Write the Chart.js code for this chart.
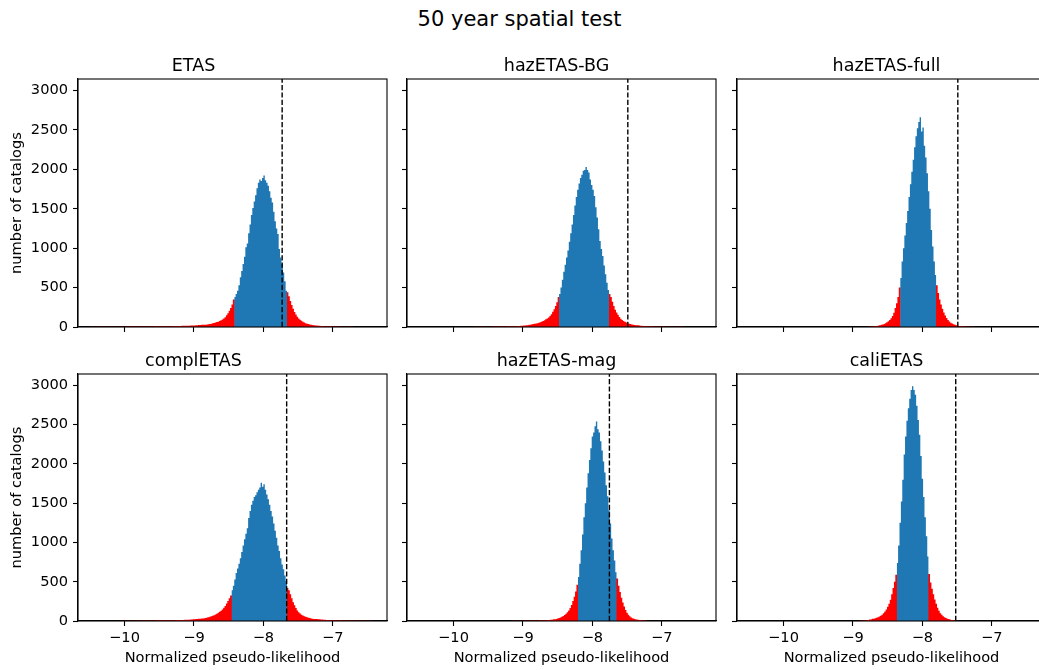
<!DOCTYPE html>
<html>
<head>
<meta charset="utf-8">
<title>50 year spatial test</title>
<script src="https://cdn.jsdelivr.net/npm/chart.js@4.4.1/dist/chart.umd.min.js"></script>
<style>
  html, body { margin: 0; padding: 0; background: #ffffff; width: 1039px; height: 670px; overflow: hidden; }
  #suptitle { position: absolute; left: 0; top: 7px; width: 1039px; text-align: center;
              font-family: "DejaVu Sans", sans-serif; font-size: 21px; line-height: 25px; color: #000; }
  canvas { position: absolute; }
</style>
</head>
<body>
<div id="suptitle">50 year spatial test</div>

<script>
// Bin widths: far tails use coarse bins, everything near the peak uses fine bins
const farBin = 0.04;
const fineBin = 0.02;

// Shared axis ticks and ranges
const xTicks = [-10, -9, -8, -7];
const yTicks = [0, 500, 1000, 1500, 2000, 2500, 3000];
const xMin = -10.67, xMax = -6.22;
const yMax = 3145;

// ETAS
const etasLeftFar = [2,2,3,3,3, 3,3,3,4,4, 4,4,4,5,5, 5,5,6,6,6, 7,7,7,8,8, 9,9,10,11,11,
  12,13,14,15,16, 17,19,20,22,25, 27,30];
const etasLeftNear = [33,35,38,42,46, 50,56,62,68,76, 85,95,108,125,148, 175,205,240,285,350];
const etasCoreStart = -8.42;
const etasCore = [380,420,460,530,630, 710,800,890,1010,1060, 1190,1300,1420,1510,1590,
  1670,1760,1830,1870,1850, 1890,1920,1860,1830,1790, 1720,1640,1580,1460,1340,
  1250,1180,990,880,800, 690,580,460];
const etasRightNear = [440,390,330,280,230, 190,160,130,108,92, 78,66,56,48,42, 37,33,29,26,23];
const etasRightFar = [20,16,13,11,9,8,7,6,5,4,4,3,3,2];
const etasObserved = -7.73;

// hazETAS-BG
const bgLeftFar = [2,2,3,3,3, 4,4,5,5,6, 6,7,8,9,10, 11,13,15,18,22, 27];
const bgLeftNear = [34,37,40,44,49, 54,60,67,76,86, 97,108,122,140,162, 192,225,265,315,380];
const bgCoreStart = -8.48;
const bgCore = [420,500,600,700,790, 880,970,1080,1190,1300, 1420,1540,1650,1740,1820,
  1890,1930,1980,1990,2030, 1990,1960,1870,1800,1740, 1660,1520,1390,1240,1090,
  990,900,780,670,560, 470];
const bgRightNear = [420,380,320,265,220, 185,155,128,106,90, 76,65,56,48,42, 37,33,29,26,23];
const bgRightFar = [21,17,14,12,10,8,7,6,5,5,4,4,3,3,3,2,2];
const bgObserved = -7.49;

// hazETAS-full
const fullLeftFar = [4,7,10,14];
const fullLeftNear = [20,23,27,32,39, 48,59,73,90,112, 140,180,240,300,380, 500];
const fullCoreStart = -8.32;
const fullCore = [620,830,1000,1160,1320, 1470,1650,1810,1970,2120, 2280,2420,2520,2600,2660,
  2480,2530,2300,2150,1950, 1720,1500,1230,1020,830, 660];
const fullRightNear = [530,430,350,285,230, 185,145,115,90,70, 55,43,34,27,21, 17];
const fullRightFar = [13,9,6,5,4,3];
const fullObserved = -7.49;

// complETAS
const complLeftFar = [3,3,3,4,4, 4,5,5,5,6, 6,7,7,8,8, 9,9,10,10,11, 12,13,14,15,17, 19,21,24,28,33];
const complLeftNear = [36,39,43,48,53, 59,66,74,83,93, 105,118,132,148,168, 192,222,255,290,325];
const complCoreStart = -8.46;
const complCore = [390,450,530,610,670, 730,800,880,960,1040, 1110,1180,1310,1400,1480,
  1530,1580,1600,1640,1670, 1700,1760,1710,1740,1670, 1610,1550,1480,1400,1330,
  1240,1150,1060,960,890, 800,720,660,580,510];
const complRightNear = [420,390,340,290,240, 200,165,135,112,94, 80,69,60,53,47, 42,37,33,30,27];
const complRightFar = [25,21,18,16,14,12,11,10,9,8,7,7,6,6,5,5,4,4,3,3,3];
const complObserved = -7.665;

// hazETAS-mag
const magLeftFar = [3,3,3,4,4,5,5,6,6,7,8,9,11,13,16,21];
const magLeftNear = [27,31,37,44,53, 63,76,92,112,135, 165,205,255,310,375, 460];
const magCoreStart = -8.21;
const magCore = [560,730,900,1100,1320, 1500,1700,1880,2050,2200, 2350,2400,2480,2540,2440,
  2400,2290,2170,2030,1890, 1730,1590,1410,1240,1050, 900,770,620];
const magRightNear = [540,450,370,295,235, 185,140,105,80,60, 46,36,28,22,18, 15];
const magRightFar = [12,8,5];
const magObserved = -7.755;

// caliETAS
const caliLeftFar = [4,7,10,14,20,28];
const caliLeftNear = [35,40,47,56,67, 80,98,120,148,180, 220,270,340,420,500, 590];
const caliCoreStart = -8.37;
const caliCore = [740,960,1250,1520,1800, 2120,2350,2550,2710,2830, 2940,2990,2940,2880,2740,
  2560,2370,2100,1810,1580, 1320,1080,820];
const caliRightNear = [600,490,410,340,275, 220,170,130,100,78, 62,48,38,30,24, 19];
const caliRightFar = [14,8,4];
const caliObserved = -7.52;

const panelTitles = ['ETAS', 'hazETAS-BG', 'hazETAS-full', 'complETAS', 'hazETAS-mag', 'caliETAS'];

const BLUE = '#1f77b4';
const RED = '#ff0000';
const FONT = 'DejaVu Sans';
const TICK_FONT = 14.6;
const TITLE_FONT = 17.5;

Chart.defaults.font.family = FONT;
Chart.defaults.color = '#000';

// Step outline built from consecutive runs of bins: [{start, width, counts}, ...]
// Each bin's height holds from its left edge to the next edge.
function stepPoints(runs, endOverlap) {
  const pts = [];
  let x = runs[0].start, last = 0;
  runs.forEach(run => {
    run.counts.forEach((c, i) => {
      pts.push({ x: run.start + i * run.width, y: c });
      last = c;
    });
    x = run.start + run.counts.length * run.width;
  });
  pts.push({ x: x + (endOverlap || 0), y: last });
  return pts;
}

function histSet(points, color) {
  return {
    data: points, stepped: true, fill: 'origin',
    backgroundColor: color, borderColor: 'rgba(0,0,0,0)', borderWidth: 0,
    pointRadius: 0, pointHoverRadius: 0
  };
}

// Axes frame on all four sides
const framePlugin = {
  id: 'frame',
  afterDatasetsDraw(chart) {
    const a = chart.chartArea, ctx = chart.ctx;
    ctx.save();
    ctx.strokeStyle = '#000';
    ctx.lineWidth = 1.1;
    ctx.strokeRect(a.left, a.top, a.right - a.left, a.bottom - a.top);
    ctx.restore();
  }
};

function minusLabel(v) {
  return v < 0 ? '\u2212' + Math.abs(v) : String(v);
}

const colLeft = [78, 407, 737];
const plotW = 309;
const rows = [
  { top: 79, h: 248, xH: 16 },
  { top: 374, h: 247, xH: 49 }
];
const titleBlock = 30;

function makePanel(idx, m) {
  const row = Math.floor(idx / 3), col = idx % 3;
  const r = rows[row];
  const yW = col === 0 ? 78 : 10;
  const canvas = document.createElement('canvas');
  const w = yW + plotW + 2;
  const h = titleBlock + r.h + r.xH;
  canvas.width = w; canvas.height = h;
  canvas.style.left = (colLeft[col] - yW) + 'px';
  canvas.style.top = (r.top - titleBlock) + 'px';
  canvas.style.width = w + 'px'; canvas.style.height = h + 'px';
  document.body.appendChild(canvas);

  const showX = row === 1, showY = col === 0;

  const leftNearStart = m.coreStart - m.leftNear.length * fineBin;
  const leftFarStart = leftNearStart - m.leftFar.length * farBin;
  const rightNearStart = m.coreStart + m.core.length * fineBin;
  const rightFarStart = rightNearStart + m.rightNear.length * fineBin;

  // Red tails run a hair under the blue region so no seam shows at the joins
  const leftRed = stepPoints([
    { start: leftFarStart, width: farBin, counts: m.leftFar },
    { start: leftNearStart, width: fineBin, counts: m.leftNear }
  ], 0.01);
  const rightRedRuns = stepPoints([
    { start: rightNearStart, width: fineBin, counts: m.rightNear },
    { start: rightFarStart, width: farBin, counts: m.rightFar }
  ]);
  rightRedRuns.unshift({ x: rightNearStart - 0.01, y: m.rightNear[0] });
  const blue = stepPoints([{ start: m.coreStart, width: fineBin, counts: m.core }]);

  new Chart(canvas, {
    type: 'line',
    data: {
      datasets: [
        { data: [{ x: m.observed, y: 0 }, { x: m.observed, y: yMax }], borderColor: '#000',
          borderWidth: 1.4, borderDash: [5.2, 2.2], pointRadius: 0, fill: false },
        histSet(blue, BLUE),
        histSet(leftRed, RED),
        histSet(rightRedRuns, RED)
      ]
    },
    options: {
      responsive: false, animation: false, devicePixelRatio: 1,
      layout: { padding: { left: 0, right: 2, top: 0, bottom: 0 } },
      plugins: {
        legend: { display: false }, tooltip: { enabled: false },
        title: { display: true, text: panelTitles[idx], color: '#000',
                 font: { family: FONT, size: TITLE_FONT, weight: 'normal', lineHeight: 1.2 },
                 padding: { top: 7, bottom: 2 } }
      },
      scales: {
        x: {
          type: 'linear', min: xMin, max: xMax,
          afterBuildTicks: s => { s.ticks = xTicks.map(v => ({ value: v })); },
          afterFit: s => { s.height = r.xH; },
          grid: { display: true, drawOnChartArea: false, drawTicks: true, tickLength: 5, tickWidth: 1.1, tickColor: '#000' },
          border: { display: true, color: '#000', width: 1.1 },
          ticks: { display: showX, padding: 3, maxRotation: 0, autoSkip: false, color: '#000',
                   font: { family: FONT, size: TICK_FONT }, callback: v => minusLabel(v) },
          title: { display: showX, text: 'Normalized pseudo-likelihood', color: '#000',
                   font: { family: FONT, size: TICK_FONT }, padding: { top: 0, bottom: 2.9 } }
        },
        y: {
          type: 'linear', min: 0, max: yMax,
          afterBuildTicks: s => { s.ticks = yTicks.map(v => ({ value: v })); },
          afterFit: s => { s.width = yW; },
          grid: { display: true, drawOnChartArea: false, drawTicks: true, tickLength: 5, tickWidth: 1.1, tickColor: '#000' },
          border: { display: true, color: '#000', width: 1.1 },
          ticks: { display: showY, padding: 5, autoSkip: false, color: '#000',
                   font: { family: FONT, size: TICK_FONT }, callback: v => String(v) },
          title: { display: showY, text: 'number of catalogs', color: '#000',
                   font: { family: FONT, size: TICK_FONT }, padding: { top: 8.7, bottom: 0 } }
        }
      }
    },
    plugins: [framePlugin]
  });
}

makePanel(0, { leftFar: etasLeftFar, leftNear: etasLeftNear, coreStart: etasCoreStart, core: etasCore,
               rightNear: etasRightNear, rightFar: etasRightFar, observed: etasObserved });
makePanel(1, { leftFar: bgLeftFar, leftNear: bgLeftNear, coreStart: bgCoreStart, core: bgCore,
               rightNear: bgRightNear, rightFar: bgRightFar, observed: bgObserved });
makePanel(2, { leftFar: fullLeftFar, leftNear: fullLeftNear, coreStart: fullCoreStart, core: fullCore,
               rightNear: fullRightNear, rightFar: fullRightFar, observed: fullObserved });
makePanel(3, { leftFar: complLeftFar, leftNear: complLeftNear, coreStart: complCoreStart, core: complCore,
               rightNear: complRightNear, rightFar: complRightFar, observed: complObserved });
makePanel(4, { leftFar: magLeftFar, leftNear: magLeftNear, coreStart: magCoreStart, core: magCore,
               rightNear: magRightNear, rightFar: magRightFar, observed: magObserved });
makePanel(5, { leftFar: caliLeftFar, leftNear: caliLeftNear, coreStart: caliCoreStart, core: caliCore,
               rightNear: caliRightNear, rightFar: caliRightFar, observed: caliObserved });
</script>
</body>
</html>
